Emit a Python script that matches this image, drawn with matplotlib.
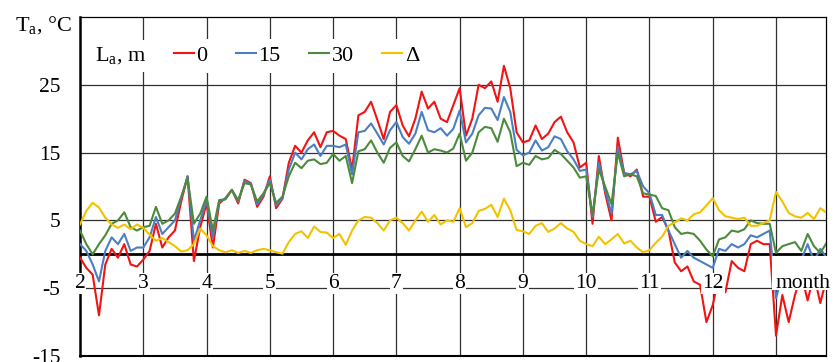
import matplotlib
matplotlib.use("Agg")
import matplotlib.pyplot as plt
import matplotlib.patches as patches
import numpy as np

plt.rcParams['font.family'] = ['Liberation Serif', 'DejaVu Serif']
plt.rcParams['mathtext.fontset'] = 'custom'
plt.rcParams['mathtext.rm'] = 'Liberation Serif'
plt.rcParams['axes.unicode_minus'] = False

#
# Air temperature at heights L_a = 0, 15, 30 m and the difference,
# sampled every 0.1 month from the start of February
#
start_month = 2.0
step = 0.1

t0 = [-0.5, -2.0, -3.0, -9.0, -1.5, 0.8, -0.5, 1.5, -1.5, -1.8,
      -0.8, 0.5, 4.5, 1.0, 2.5, 3.5, 7.8, 11.5, -1.0, 4.0,
      7.5, 1.0, 7.5, 8.3, 9.5, 7.5, 11.0, 10.5, 7.0, 8.5,
      11.5, 6.8, 8.2, 13.5, 16.0, 15.0, 16.8, 18.0, 15.8, 18.0,
      18.2, 17.5, 17.0, 12.5, 20.5, 21.0, 22.5, 19.8, 17.0, 21.0,
      22.0, 19.0, 17.4, 20.0, 24.0, 21.5, 22.5, 20.0, 19.5, 22.0,
      24.5, 17.5, 20.0, 25.0, 24.5, 25.5, 22.5, 27.8, 24.5, 18.0,
      16.5, 16.8, 19.0, 17.0, 17.8, 19.5, 20.3, 18.0, 16.5, 12.8,
      13.5, 4.5, 14.5, 9.0, 5.0, 17.2, 12.0, 11.5, 12.5, 8.5,
      8.5, 4.8, 5.5, 3.5, -1.2, -2.5, -1.8, -4.0, -4.5, -10.0,
      -7.5, -3.2, -5.6, -1.0, -2.0, -2.5, 1.5, 2.0, 1.5, 1.5,
      -12.0, -6.0, -10.0, -6.0, -3.0, -6.8, -3.0, -7.2, -3.5]

t15 = [1.5, 0.5, -1.5, -4.0, 0.5, 2.5, 1.5, 3.0, 0.5, 1.0,
       1.0, 2.5, 5.5, 3.0, 4.0, 5.0, 8.3, 11.5, 2.0, 5.0,
       8.0, 2.5, 7.8, 8.2, 9.5, 7.8, 10.8, 10.4, 7.4, 8.8,
       11.0, 7.2, 8.3, 12.5, 15.0, 14.0, 15.5, 16.2, 14.5, 16.0,
       16.0, 15.8, 16.2, 11.8, 18.0, 18.2, 19.3, 17.8, 16.2, 18.3,
       19.5, 17.3, 16.3, 17.8, 21.0, 18.3, 18.0, 18.6, 17.5, 18.5,
       21.2, 16.5, 17.8, 20.5, 21.6, 21.5, 19.8, 23.2, 21.0, 15.4,
       14.6, 15.0, 16.8, 15.3, 15.8, 17.4, 17.0, 15.2, 14.0, 12.3,
       12.5, 5.5, 13.5, 9.5, 6.0, 15.8, 12.0, 11.8, 12.3, 10.0,
       9.0, 5.8, 5.8, 3.5, 1.5, -0.5, 0.5, -0.5, -1.0, -1.5,
       -2.0, 0.8, 0.5, 1.5, 1.0, 1.5, 2.8, 2.5, 3.0, 3.5,
       -6.5, -3.0, -4.5, -2.0, -0.8, 1.5, -1.0, 0.8, -0.5]

t30 = [3.5, 1.5, 0.0, 1.5, 2.8, 4.5, 5.0, 6.2, 4.0, 3.5,
       4.0, 4.2, 7.0, 4.5, 5.0, 6.0, 8.5, 11.3, 4.5, 6.0,
       8.5, 3.5, 8.0, 8.1, 9.5, 8.0, 10.5, 10.3, 7.8, 9.0,
       10.5, 7.6, 8.5, 11.5, 13.5, 12.7, 13.8, 14.0, 13.3, 13.5,
       14.8, 13.8, 14.5, 10.5, 15.2, 15.5, 16.8, 15.0, 13.5, 15.7,
       16.5, 14.5, 13.7, 15.5, 17.5, 15.0, 15.5, 15.3, 15.0, 15.6,
       17.8, 13.8, 15.0, 18.0, 18.8, 18.6, 16.6, 20.0, 18.0, 13.0,
       13.5, 13.2, 14.5, 14.0, 14.2, 15.4, 14.8, 13.8, 12.8, 11.3,
       11.5, 5.8, 12.5, 10.0, 7.4, 15.0, 11.5, 11.8, 11.5, 9.0,
       8.8, 8.6, 6.8, 6.5, 4.0, 3.0, 3.2, 3.0, 2.0, 0.7,
       -0.3, 2.2, 2.5, 3.5, 3.3, 3.7, 5.0, 4.6, 4.5, 4.5,
       0.2, 1.2, 1.5, 1.8, 0.5, 3.0, 1.2, 0.2, 1.7]

delta = [4.4, 6.4, 7.6, 6.9, 5.4, 4.4, 3.9, 4.4, 3.7, 4.4,
         3.9, 2.9, 2.0, 2.4, 1.8, 1.2, 0.4, 0.6, 1.5, 3.8,
         2.8, 1.2, 0.6, 0.3, 0.6, 0.2, 0.5, 0.2, 0.6, 0.8,
         0.6, 0.3, 0.1, 1.8, 3.0, 3.4, 2.4, 4.1, 3.3, 3.2,
         2.4, 3.0, 1.4, 3.5, 5.0, 5.5, 5.4, 4.6, 3.5, 5.0,
         5.4, 4.6, 3.5, 5.0, 6.3, 4.8, 5.8, 4.4, 5.0, 4.8,
         6.8, 4.0, 4.6, 6.4, 6.7, 7.3, 5.5, 8.2, 6.5, 3.6,
         3.4, 3.0, 4.2, 4.6, 3.3, 3.8, 4.6, 3.8, 3.3, 2.0,
         1.5, 1.2, 2.6, 1.5, 2.2, 3.0, 1.6, 2.0, 1.0, 0.3,
         0.6, 1.7, 2.6, 4.2, 4.7, 5.3, 5.0, 5.9, 6.2, 7.2,
         8.3, 6.5, 5.6, 5.4, 5.2, 5.4, 4.2, 4.2, 4.6, 5.0,
         9.2, 7.8, 6.1, 5.6, 5.4, 6.1, 5.2, 6.8, 6.1]

series_labels = ['0', '15', '30', r'$\Delta$']
series_colors = ['#f01414', '#4a7fc1', '#4c8a3c', '#f2c200']

month_ticks = [2, 3, 4, 5, 6, 7, 8, 9, 10, 11, 12]
grid_months = [3, 4, 5, 6, 7, 8, 9, 10, 11, 12, 13]
y_ticks = [-15, -5, 5, 15, 25]

months = start_month + step * np.arange(len(t0))

fig = plt.figure(figsize=(8.39, 3.62), dpi=100)
ax = fig.add_axes([80/839, 6/362, 746/839, 339/362])

for vals, lab, col in zip([t0, t15, t30, delta], series_labels, series_colors):
    ax.plot(months, vals, color=col, lw=1.5, label=lab, zorder=3)

ax.set_xlim(2, 13.79)
ax.set_ylim(-15, 35)
ax.set_xticks(grid_months)
ax.set_yticks(y_ticks)
ax.grid(True, color='#303030', lw=0.9, zorder=1)
ax.set_axisbelow(True)
ax.axhline(0, color='black', lw=2.0, zorder=2)
ax.tick_params(axis='x', length=0, labelbottom=False)
ax.tick_params(axis='y', length=0, pad=14, labelsize=15.5)

ax.spines['left'].set_linewidth(1.8)
ax.spines['bottom'].set_linewidth(1.5)
ax.spines['top'].set_linewidth(0.9)
ax.spines['right'].set_linewidth(0.9)

# month labels sit on the -5 grid line
for m in month_ticks:
    ax.text(m, -5, str(m), ha='center', va='baseline', fontsize=15.5, zorder=6,
            bbox=dict(boxstyle='square,pad=0.05', facecolor='white', edgecolor='none'))

ax.add_patch(patches.Rectangle((12.93, -5.3), 0.95, 5.0, facecolor='white',
                               edgecolor='none', zorder=5, clip_on=False))
ax.text(13.42, -5, 'month', ha='center', va='baseline', fontsize=15.5, zorder=6)

fig.text(15/839, 1 - 31/362, r'T$_\mathregular{a}$, °C', fontsize=16, va='baseline')

ax.text(0.0201, 0.885, r'L$_\mathregular{a}$, m', transform=ax.transAxes, fontsize=16,
        va='center', ha='left', zorder=6,
        bbox=dict(boxstyle='square,pad=0.25', facecolor='white', edgecolor='none'))
leg = ax.legend(loc='center left', bbox_to_anchor=(0.1166, 0.885), ncol=4, fontsize=16,
                frameon=True, fancybox=False, framealpha=1, edgecolor='none',
                handlelength=0.9, handletextpad=0.1, columnspacing=1.3,
                borderpad=0.3, borderaxespad=0)
leg.set_zorder(6)

fig.savefig('out.png', dpi=100)
